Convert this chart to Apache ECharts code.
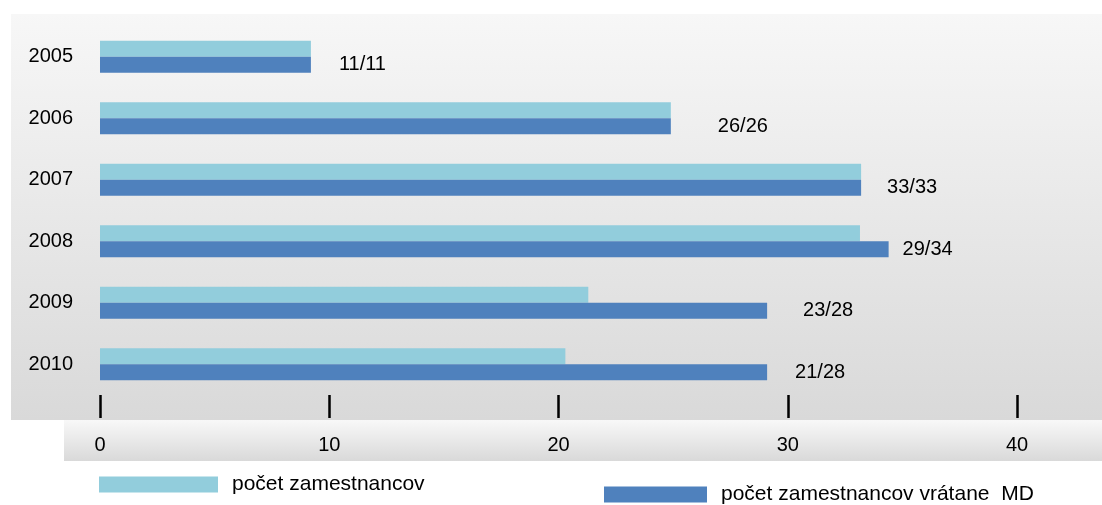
<!DOCTYPE html>
<html>
<head>
<meta charset="utf-8">
<script src="https://cdn.jsdelivr.net/npm/echarts@6/dist/echarts.min.js"></script>
<style>
html,body{margin:0;padding:0;background:#fff;}
#c{width:1102px;height:505px;}
</style>
</head>
<body>
<div id="c"></div>
<script>
var years = ['2005', '2006', '2007', '2008', '2009', '2010'];
var employees = [9.2, 24.9, 33.2, 33.15, 21.3, 20.3];
var employeesWithMD = [9.2, 24.9, 33.2, 34.4, 29.1, 29.1];
var valueLabels = ['11/11', '26/26', '33/33', '29/34', '23/28', '21/28'];
var xTicks = [0, 10, 20, 30, 40];
var seriesNames = ['počet zamestnancov', 'počet zamestnancov vrátane  MD'];

// label gaps (style only, px)
var labelGaps = [28, 47, 26, 14, 36, 28];

var FONT = '"Liberation Sans", Arial, sans-serif';
var chart = echarts.init(document.getElementById('c'), null, {renderer: 'canvas'});
chart.setOption({
  animation: false,
  backgroundColor: '#ffffff',
  textStyle: {fontFamily: FONT},
  graphic: [
    {type: 'rect', silent: true, z: -10, shape: {x: 11, y: 14, width: 1091, height: 406},
     style: {fill: new echarts.graphic.LinearGradient(0, 0, 0, 1, [
       {offset: 0, color: '#f7f7f7'}, {offset: 1, color: '#d9d9d9'}])}},
    {type: 'rect', silent: true, z: -10, shape: {x: 64, y: 420, width: 1038, height: 41},
     style: {fill: new echarts.graphic.LinearGradient(0, 0, 0, 1, [
       {offset: 0, color: '#f8f8f8'}, {offset: 1, color: '#d9d9d9'}])}}
  ],
  legend: [
    {data: [seriesNames[0]], left: 99, top: 474, padding: 0, itemWidth: 119, itemHeight: 16, icon: 'rect',
     selectedMode: false, textStyle: {fontSize: 21, color: '#000', fontFamily: FONT, padding: [0, 0, 0, 9]}},
    {data: [seriesNames[1]], left: 604, top: 484, padding: 0, itemWidth: 103, itemHeight: 16, icon: 'rect',
     selectedMode: false, textStyle: {fontSize: 21, color: '#000', fontFamily: FONT, padding: [0, 0, 0, 9]}}
  ],
  grid: {left: 100, right: 85, top: 26, height: 369, containLabel: false},
  xAxis: {
    type: 'value', min: xTicks[0], max: xTicks[xTicks.length - 1], interval: 10,
    axisLine: {show: false},
    axisTick: {show: true, length: 23, lineStyle: {color: '#000', width: 2.5}},
    splitLine: {show: false},
    axisLabel: {fontSize: 20, color: '#000', margin: 40, fontFamily: FONT}
  },
  yAxis: {
    type: 'category', data: years, inverse: true,
    axisLine: {show: false}, axisTick: {show: false},
    axisLabel: {fontSize: 20, color: '#000', margin: 27, fontFamily: FONT, padding: [9, 0, 0, 0]}
  },
  series: [
    {name: seriesNames[0], type: 'bar', data: employees, barWidth: 16, barGap: '0%',
     itemStyle: {color: '#92cddc'}},
    {name: seriesNames[1], type: 'bar', barWidth: 16, barGap: '0%',
     data: employeesWithMD.map(function (v, i) {
       return {value: v, label: {distance: labelGaps[i]}};
     }),
     itemStyle: {color: '#4f81bd'},
     label: {show: true, position: 'right', fontSize: 20, color: '#000', fontFamily: FONT,
       formatter: function (p) { return valueLabels[p.dataIndex]; }}}
  ]
});
</script>
</body>
</html>
